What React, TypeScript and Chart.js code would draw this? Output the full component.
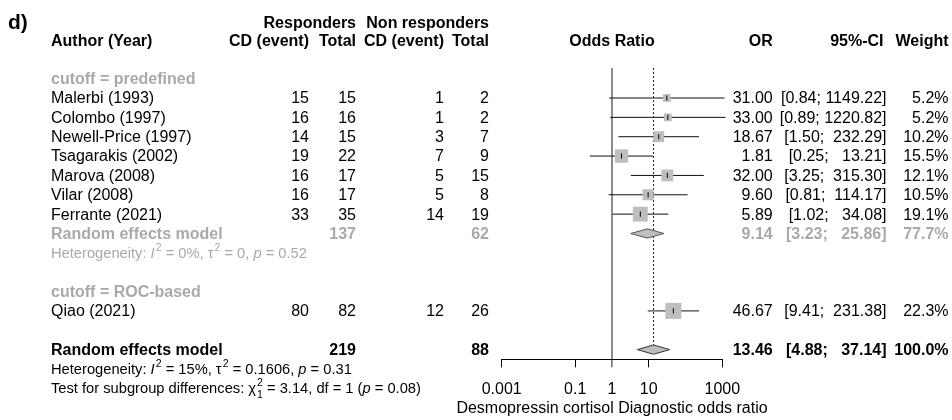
import React, { useEffect, useRef } from "react";
import { Chart, registerables } from "chart.js";

Chart.register(...registerables);

const FONT = '"Liberation Sans", Arial, Helvetica, sans-serif';

// ---------- data ----------
const studies = [
  "Malerbi (1993)",
  "Colombo (1997)",
  "Newell-Price (1997)",
  "Tsagarakis (2002)",
  "Marova (2008)",
  "Vilar (2008)",
  "Ferrante (2021)",
  "Qiao (2021)",
];
const studyRows = [1, 2, 3, 4, 5, 6, 7, 12];
const respEvents = [15, 16, 14, 19, 16, 16, 33, 80];
const respTotals = [15, 16, 15, 22, 17, 17, 35, 82];
const nonEvents = [1, 1, 3, 7, 5, 5, 14, 12];
const nonTotals = [2, 2, 7, 9, 15, 8, 19, 26];
const oddsRatios = [31.0, 33.0, 18.67, 1.81, 32.0, 9.6, 5.89, 46.67];
const ciLower = [0.84, 0.89, 1.5, 0.25, 3.25, 0.81, 1.02, 9.41];
const ciUpper = [1149.22, 1220.82, 232.29, 13.21, 315.3, 114.17, 34.08, 231.38];
const weights = [5.2, 5.2, 10.2, 15.5, 12.1, 10.5, 19.1, 22.3];

const subgroupLabels = ["cutoff = predefined", "cutoff = ROC-based"];
const subgroupRows = [0, 11];

const pooledLabels = ["Random effects model", "Random effects model"];
const pooledRows = [8, 14];
const pooledRespTotals = [137, 219];
const pooledNonTotals = [62, 88];
const pooledOR = [9.14, 13.46];
const pooledLower = [3.23, 4.88];
const pooledUpper = [25.86, 37.14];
const pooledWeights = [77.7, 100.0];
const pooledIsOverall = [false, true];

const hetRows = [9, 15];
const testRow = 16;
const headerRows = [-2.9, -1.95];

const xTicks = [0.001, 0.1, 1, 10, 1000];
const xTitle = "Desmopressin cortisol Diagnostic odds ratio";

// ---------- style ----------
const GRAY_TEXT = "#a9a9a9";
const SQUARE = "#bebebe";
const Y_MIN = -0.55;
const Y_MAX = 14.5;
const DIAMOND_H = 0.24;
const TEXT_DY = 1;
const HET_SIZE = 14.7;

const COL = {
  name: 51,
  re: 309,
  rt: 356,
  ne: 444,
  nt: 489,
  or: 772.7,
  ci: 886.5,
  w: 948.5,
};

type Seg = { t?: string; it?: boolean; sup?: boolean; supsub?: [string, string] };

const hetSegs: Seg[][] = [
  [
    { t: "Heterogeneity: " },
    { t: "I", it: true },
    { t: "2", sup: true },
    { t: " = 0%, " },
    { t: "\u03C4" },
    { t: "2", sup: true },
    { t: " = 0, " },
    { t: "p", it: true },
    { t: " = 0.52" },
  ],
  [
    { t: "Heterogeneity: " },
    { t: "I", it: true },
    { t: "2", sup: true },
    { t: " = 15%, " },
    { t: "\u03C4" },
    { t: "2", sup: true },
    { t: " = 0.1606, " },
    { t: "p", it: true },
    { t: " = 0.31" },
  ],
];
const testSegs: Seg[] = [
  { t: "Test for subgroup differences: " },
  { t: "\u03C7" },
  { supsub: ["2", "1"] },
  { t: " = 3.14, df = 1 (" },
  { t: "p", it: true },
  { t: " = 0.08)" },
];

const fmtCI = (lo: number, hi: number) =>
  "[" + lo.toFixed(2) + "; " + hi.toFixed(2).padStart(7, " ") + "]";

function drawRich(ctx: CanvasRenderingContext2D, segs: Seg[], x: number, y: number, size: number, color: string) {
  let cx = x;
  ctx.fillStyle = color;
  ctx.textAlign = "left";
  ctx.textBaseline = "middle";
  for (const s of segs) {
    if (s.supsub) {
      const fs = size * 0.72;
      ctx.font = `${fs}px ${FONT}`;
      const w1 = ctx.measureText(s.supsub[0]).width;
      const w2 = ctx.measureText(s.supsub[1]).width;
      ctx.fillText(s.supsub[0], cx + 1, y - size * 0.42);
      ctx.fillText(s.supsub[1], cx + 1, y + size * 0.42);
      cx += Math.max(w1, w2) + 1;
      continue;
    }
    const fs = s.sup ? size * 0.72 : size;
    ctx.font = `${s.it ? "italic " : ""}${fs}px ${FONT}`;
    ctx.fillText(s.t || "", cx + (s.sup ? 1 : 0), s.sup ? y - size * 0.42 : y);
    cx += ctx.measureText(s.t || "").width + (s.sup ? 1 : 0);
  }
}

const tablePlugin = {
  id: "forestTable",
  afterDraw(chart: any) {
    const ctx: CanvasRenderingContext2D = chart.ctx;
    const ys = chart.scales.y;
    const area = chart.chartArea;
    const py = (r: number) => ys.getPixelForValue(r) + TEXT_DY;
    const txt = (s: string, x: number, r: number, align: CanvasTextAlign, bold = false, color = "#000", size = 16) => {
      ctx.font = `${bold ? "bold " : ""}${size}px ${FONT}`;
      ctx.fillStyle = color;
      ctx.textAlign = align;
      ctx.textBaseline = "middle";
      ctx.fillText(s, x, py(r));
    };
    ctx.save();
    // panel letter
    ctx.font = `bold 21px ${FONT}`;
    ctx.fillStyle = "#000";
    ctx.textAlign = "left";
    ctx.textBaseline = "middle";
    ctx.fillText("d)", 8, py(headerRows[0]));

    // headers
    txt("Responders", COL.rt, headerRows[0], "right", true);
    txt("Non responders", COL.nt, headerRows[0], "right", true);
    txt("Author (Year)", COL.name, headerRows[1], "left", true);
    txt("CD (event)", COL.re, headerRows[1], "right", true);
    txt("Total", COL.rt, headerRows[1], "right", true);
    txt("CD (event)", COL.ne, headerRows[1], "right", true);
    txt("Total", COL.nt, headerRows[1], "right", true);
    txt("Odds Ratio", (area.left + area.right) / 2, headerRows[1], "center", true);
    txt("OR", COL.or, headerRows[1], "right", true);
    txt("95%-CI", COL.ci - 3, headerRows[1], "right", true);
    txt("Weight", COL.w, headerRows[1], "right", true);

    subgroupLabels.forEach((s, i) => txt(s, COL.name, subgroupRows[i], "left", true, GRAY_TEXT));

    studies.forEach((s, i) => {
      const r = studyRows[i];
      txt(s, COL.name, r, "left");
      txt(String(respEvents[i]), COL.re, r, "right");
      txt(String(respTotals[i]), COL.rt, r, "right");
      txt(String(nonEvents[i]), COL.ne, r, "right");
      txt(String(nonTotals[i]), COL.nt, r, "right");
      txt(oddsRatios[i].toFixed(2), COL.or, r, "right");
      txt(fmtCI(ciLower[i], ciUpper[i]), COL.ci, r, "right");
      txt(weights[i].toFixed(1) + "%", COL.w, r, "right");
    });

    pooledLabels.forEach((s, i) => {
      const r = pooledRows[i];
      const c = pooledIsOverall[i] ? "#000" : GRAY_TEXT;
      txt(s, COL.name, r, "left", true, c);
      txt(String(pooledRespTotals[i]), COL.rt, r, "right", true, c);
      txt(String(pooledNonTotals[i]), COL.nt, r, "right", true, c);
      txt(pooledOR[i].toFixed(2), COL.or, r, "right", true, c);
      txt(fmtCI(pooledLower[i], pooledUpper[i]), COL.ci, r, "right", true, c);
      txt(pooledWeights[i].toFixed(1) + "%", COL.w, r, "right", true, c);
    });

    drawRich(ctx, hetSegs[0], COL.name, py(hetRows[0]), HET_SIZE, GRAY_TEXT);
    drawRich(ctx, hetSegs[1], COL.name, py(hetRows[1]), HET_SIZE, "#000");
    drawRich(ctx, testSegs, COL.name, py(testRow), HET_SIZE, "#000");

    // x axis title
    ctx.font = `16px ${FONT}`;
    ctx.fillStyle = "#000";
    ctx.textAlign = "center";
    ctx.textBaseline = "middle";
    ctx.fillText(xTitle, (area.left + area.right) / 2, 409);
    ctx.restore();
  },
};

export default function App() {
  const ref = useRef<HTMLCanvasElement>(null);
  useEffect(() => {
    const canvas = ref.current;
    if (!canvas) return;
    const datasets: any[] = [];
    const overallIdx = pooledIsOverall.indexOf(true);

    // reference line at OR = 1
    datasets.push({
      data: [{ x: 1, y: Y_MIN }, { x: 1, y: Y_MAX }],
      showLine: true,
      borderColor: "#707070",
      borderWidth: 1.6,
      pointRadius: 0,
      order: 6,
      clip: false,
    });
    // dotted line at pooled estimate
    datasets.push({
      data: [
        { x: pooledOR[overallIdx], y: Y_MIN },
        { x: pooledOR[overallIdx], y: pooledRows[overallIdx] - DIAMOND_H },
      ],
      showLine: true,
      borderColor: "#222",
      borderWidth: 1,
      borderDash: [2, 2],
      pointRadius: 0,
      order: 5,
      clip: false,
    });
    // CI lines
    studies.forEach((_, i) => {
      datasets.push({
        data: [
          { x: ciLower[i], y: studyRows[i] },
          { x: ciUpper[i], y: studyRows[i] },
        ],
        showLine: true,
        borderColor: "#111",
        borderWidth: 1,
        pointRadius: 0,
        order: 3,
        clip: false,
      });
    });
    // squares
    datasets.push({
      data: oddsRatios.map((v, i) => ({ x: v, y: studyRows[i] })),
      showLine: false,
      pointStyle: "rect",
      pointRadius: weights.map((w) => (3.4 * Math.sqrt(w)) / Math.SQRT2),
      pointBackgroundColor: SQUARE,
      pointBorderWidth: 0,
      order: 2,
      clip: false,
    });
    // point estimate ticks
    datasets.push({
      data: oddsRatios.map((v, i) => ({ x: v, y: studyRows[i] })),
      showLine: false,
      pointStyle: "line",
      pointRotation: 90,
      pointRadius: 2.6,
      pointBorderColor: "#000",
      pointBorderWidth: 1,
      order: 1,
      clip: false,
    });
    // diamonds
    pooledOR.forEach((est, i) => {
      const r = pooledRows[i];
      datasets.push({
        data: [
          { x: pooledLower[i], y: r },
          { x: est, y: r - DIAMOND_H },
          { x: pooledUpper[i], y: r },
          { x: est, y: r + DIAMOND_H },
          { x: pooledLower[i], y: r },
        ],
        showLine: true,
        fill: "shape",
        backgroundColor: SQUARE,
        borderColor: pooledIsOverall[i] ? "#333" : "#555",
        borderWidth: 1,
        borderJoinStyle: "miter",
        pointRadius: 0,
        tension: 0,
        order: 4,
        clip: false,
      });
    });

    const chart = new Chart(canvas, {
      type: "scatter",
      data: { datasets },
      options: {
        responsive: false,
        animation: false,
        events: [],
        layout: { padding: { left: 501.7, right: 229.7, top: 68, bottom: 0 } },
        plugins: { legend: { display: false }, tooltip: { enabled: false } },
        scales: {
          x: {
            type: "logarithmic",
            position: "bottom",
            min: 0.001,
            max: 1000,
            afterBuildTicks: (s: any) => {
              s.ticks = xTicks.map((v) => ({ value: v }));
            },
            afterFit: (s: any) => {
              s.height = 60.7;
            },
            grid: {
              drawOnChartArea: false,
              drawTicks: true,
              tickLength: 8,
              color: (c: any) => (c.tick && c.tick.value === 1 ? "#707070" : "#000"),
              lineWidth: (c: any) => (c.tick && c.tick.value === 1 ? 1.6 : 1),
            },
            border: { display: true, color: "#000", width: 1 },
            ticks: {
              callback: (v: any) => String(v),
              font: { family: FONT, size: 16 },
              color: "#000",
              padding: 13,
              autoSkip: false,
              maxRotation: 0,
            },
            title: { display: false },
          },
          y: {
            type: "linear",
            min: Y_MIN,
            max: Y_MAX,
            reverse: true,
            display: false,
          },
        },
      } as any,
      plugins: [tablePlugin],
    });
    return () => chart.destroy();
  }, []);

  return (
    <div style={{ position: "absolute", left: 0, top: 0, width: 952, height: 420, background: "#fff" }}>
      <canvas ref={ref} width={952} height={420} style={{ display: "block" }} />
    </div>
  );
}
